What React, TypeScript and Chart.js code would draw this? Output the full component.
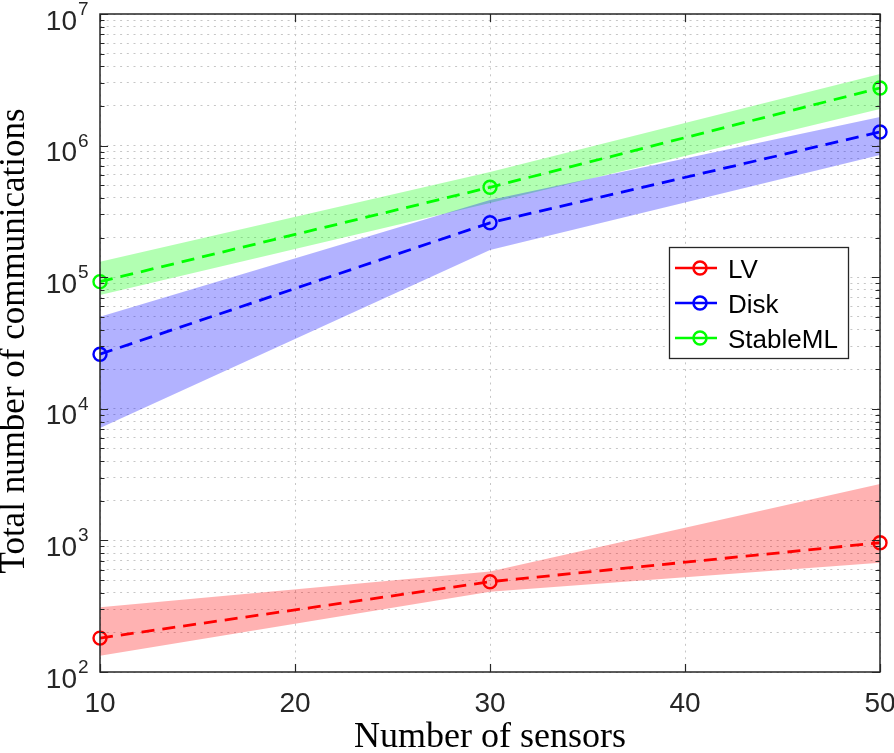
import React, { useEffect, useRef } from 'react';
import { Chart, registerables } from 'chart.js';

Chart.register(...registerables);

// ---- data ----
const xValues = [10, 30, 50];
const xTickValues = [10, 20, 30, 40, 50];
const yDecades = [2, 3, 4, 5, 6, 7];

const lvMean = [181, 485, 960];
const lvUpper = [310, 580, 2680];
const lvLower = [133, 408, 675];

const diskMean = [26000, 259000, 1270000];
const diskUpper = [50000, 386000, 1650000];
const diskLower = [7150, 161000, 850000];

const stableMean = [92500, 482000, 2740000];
const stableUpper = [131000, 630000, 3500000];
const stableLower = [73300, 366000, 1900000];

const seriesNames = ['LV', 'Disk', 'StableML'];
const lineColors = ['#ff0000', '#0000ff', '#00ff00'];
const bandColors = ['rgba(255,0,0,0.3)', 'rgba(0,0,255,0.3)', 'rgba(0,255,0,0.3)'];

const xTitle = 'Number of sensors';
const yTitle = 'Total number of communications';

const pts = (ys: number[]) => xValues.map((x, i) => ({ x, y: ys[i] }));

const AXIS_COLOR = '#262626';
const SANS = '"Liberation Sans", Arial, Helvetica, sans-serif';
const SERIF = '"Liberation Serif", "Times New Roman", serif';

const overlayPlugin = {
  id: 'matlabOverlay',
  afterDraw(chart: any) {
    const ctx: CanvasRenderingContext2D = chart.ctx;
    const { left, right, top, bottom } = chart.chartArea;
    const xs = chart.scales.x;
    const ys = chart.scales.y;
    ctx.save();

    // box
    ctx.strokeStyle = AXIS_COLOR;
    ctx.lineWidth = 1.5;
    ctx.setLineDash([]);
    ctx.strokeRect(left, top, right - left, bottom - top);

    // y ticks (major + minor) on both sides
    ctx.lineWidth = 1.2;
    ctx.beginPath();
    for (let d = yDecades[0]; d <= yDecades[yDecades.length - 1]; d++) {
      for (let m = 1; m <= 9; m++) {
        const v = m * Math.pow(10, d);
        if (v > Math.pow(10, yDecades[yDecades.length - 1])) break;
        const py = Math.round(ys.getPixelForValue(v)) + 0.5;
        const len = m === 1 ? 8 : 4.5;
        ctx.moveTo(left, py);
        ctx.lineTo(left + len, py);
        ctx.moveTo(right, py);
        ctx.lineTo(right - len, py);
      }
    }
    // x ticks bottom and top
    for (const v of xTickValues) {
      const px = Math.round(xs.getPixelForValue(v)) + 0.5;
      ctx.moveTo(px, bottom);
      ctx.lineTo(px, bottom - 8);
      ctx.moveTo(px, top);
      ctx.lineTo(px, top + 8);
    }
    ctx.stroke();

    // x tick labels
    ctx.fillStyle = AXIS_COLOR;
    ctx.font = `28px ${SANS}`;
    ctx.textAlign = 'center';
    ctx.textBaseline = 'alphabetic';
    for (const v of xTickValues) {
      ctx.fillText(String(v), xs.getPixelForValue(v), bottom + 40);
    }

    // y tick labels 10^d
    for (const d of yDecades) {
      const py = ys.getPixelForValue(Math.pow(10, d));
      ctx.font = `28px ${SANS}`;
      ctx.textAlign = 'right';
      ctx.fillText('10', left - 23, py + 15.5);
      ctx.font = `19px ${SANS}`;
      ctx.textAlign = 'left';
      ctx.fillText(String(d), left - 22, py + 1);
    }

    // axis titles
    ctx.fillStyle = '#000';
    ctx.font = `36px ${SERIF}`;
    ctx.textAlign = 'center';
    ctx.fillText(xTitle, (left + right) / 2, 747);
    ctx.save();
    ctx.font = `35px ${SERIF}`;
    ctx.translate(24, (top + bottom) / 2 - 2);
    ctx.rotate(-Math.PI / 2);
    ctx.fillText(yTitle, 0, 0);
    ctx.restore();

    // legend
    const lx = 669, ly = 247, lw = 179, lh = 111;
    ctx.fillStyle = '#ffffff';
    ctx.fillRect(lx, ly, lw, lh);
    ctx.strokeStyle = AXIS_COLOR;
    ctx.lineWidth = 1.3;
    ctx.strokeRect(lx + 0.5, ly + 0.5, lw, lh);
    const rowY = [268, 303, 338];
    seriesNames.forEach((name, i) => {
      const y = rowY[i];
      ctx.strokeStyle = lineColors[i];
      ctx.lineWidth = 2.5;
      ctx.beginPath();
      ctx.moveTo(675, y);
      ctx.lineTo(717, y);
      ctx.stroke();
      ctx.beginPath();
      ctx.arc(700, y, 6.5, 0, Math.PI * 2);
      ctx.stroke();
      ctx.fillStyle = '#000';
      ctx.font = `26px ${SANS}`;
      ctx.textAlign = 'left';
      ctx.textBaseline = 'alphabetic';
      ctx.fillText(name, 728, y + 9.5);
    });

    ctx.restore();
  },
};

export default function App() {
  const canvasRef = useRef<HTMLCanvasElement | null>(null);

  useEffect(() => {
    if (!canvasRef.current) return;
    const means = [lvMean, diskMean, stableMean];
    const uppers = [lvUpper, diskUpper, stableUpper];
    const lowers = [lvLower, diskLower, stableLower];

    const datasets: any[] = [];
    for (let i = 0; i < 3; i++) {
      datasets.push({
        label: seriesNames[i] + ' upper',
        data: pts(uppers[i]),
        borderWidth: 0,
        borderColor: 'rgba(0,0,0,0)',
        pointRadius: 0,
        backgroundColor: bandColors[i],
        fill: '+1',
        order: 2,
      });
      datasets.push({
        label: seriesNames[i] + ' lower',
        data: pts(lowers[i]),
        borderWidth: 0,
        borderColor: 'rgba(0,0,0,0)',
        pointRadius: 0,
        fill: false,
        order: 2,
      });
    }
    for (let i = 0; i < 3; i++) {
      datasets.push({
        label: seriesNames[i],
        data: pts(means[i]),
        borderColor: lineColors[i],
        borderWidth: 2.8,
        borderDash: [13, 8],
        pointRadius: 6.5,
        pointBorderWidth: 2.4,
        pointBorderColor: lineColors[i],
        pointBackgroundColor: 'rgba(0,0,0,0)',
        fill: false,
        clip: false,
        order: 0,
      });
    }

    const gridOpts = {
      color: '#c6c6c6',
      lineWidth: 1,
      drawTicks: false,
    };

    const chart = new Chart(canvasRef.current, {
      type: 'line',
      data: { datasets },
      plugins: [overlayPlugin],
      options: {
        animation: false,
        responsive: false,
        devicePixelRatio: 1,
        layout: { padding: { left: 100, top: 14, right: 14, bottom: 81 }, autoPadding: false },
        plugins: {
          legend: { display: false },
          tooltip: { enabled: false },
        },
        elements: { line: { tension: 0 } },
        scales: {
          x: {
            type: 'linear',
            min: 10,
            max: 50,
            ticks: { display: false },
            grid: gridOpts,
            border: { display: false, dash: [2, 4.7] },
            afterBuildTicks: (scale: any) => {
              scale.ticks = xTickValues.map((v) => ({ value: v }));
            },
          },
          y: {
            type: 'logarithmic',
            min: 100,
            max: 1e7,
            ticks: { display: false },
            grid: gridOpts,
            border: { display: false, dash: [2, 4.7] },
            afterBuildTicks: (scale: any) => {
              const t: any[] = [];
              for (let d = yDecades[0]; d < yDecades[yDecades.length - 1]; d++) {
                for (let m = 1; m <= 9; m++) t.push({ value: m * Math.pow(10, d) });
              }
              t.push({ value: Math.pow(10, yDecades[yDecades.length - 1]) });
              scale.ticks = t;
            },
          },
        },
      } as any,
    });
    return () => chart.destroy();
  }, []);

  return (
    <div style={{ position: 'absolute', left: 0, top: 0, width: 894, height: 753, background: '#fff' }}>
      <canvas ref={canvasRef} width={894} height={753} style={{ display: 'block' }} />
    </div>
  );
}
